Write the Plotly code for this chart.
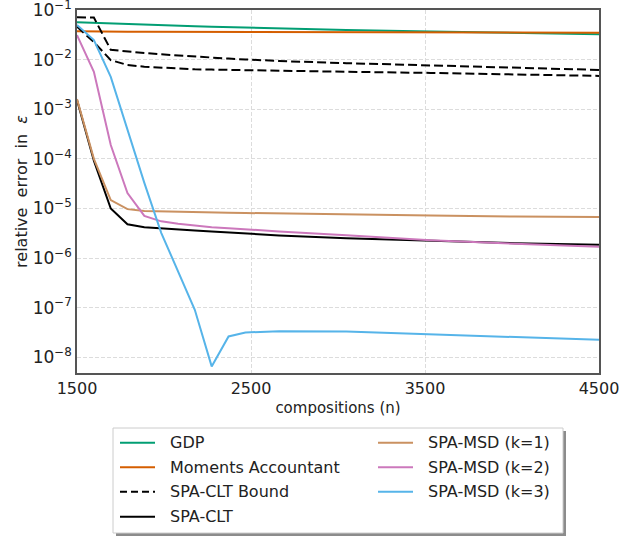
import plotly.graph_objects as go

# compositions (n) sample points
n = [1500, 1597, 1694, 1790, 1887, 1984, 2081, 2177, 2274, 2371, 2468,
     2661, 3048, 3532, 4016, 4500]

gdp = [0.0565, 0.0548, 0.0532, 0.0518, 0.0504, 0.0492, 0.0480, 0.0470,
       0.0460, 0.0450, 0.0441, 0.0425, 0.0397, 0.0368, 0.0346, 0.0326]
moments = [0.0375, 0.0368, 0.0366, 0.0365, 0.0364, 0.0363, 0.0362, 0.0361,
           0.0360, 0.0359, 0.0358, 0.0357, 0.0355, 0.0353, 0.0351, 0.0349]
bound_upper = [0.0713, 0.0705, 0.0158, 0.0145, 0.0136, 0.0128, 0.0121, 0.0115,
               0.0110, 0.0105, 0.0101, 0.0094, 0.0085, 0.0076, 0.0069, 0.0062]
bound_lower = [0.0461, 0.0226, 0.0098, 0.0078, 0.0072, 0.0069, 0.0066, 0.0064,
               0.0063, 0.0062, 0.0061, 0.0059, 0.0057, 0.0054, 0.0050, 0.0047]
spa_clt = [1.54e-3, 9.2e-5, 1.0e-5, 4.8e-6, 4.2e-6, 3.95e-6, 3.8e-6, 3.6e-6,
           3.45e-6, 3.3e-6, 3.1e-6, 2.85e-6, 2.5e-6, 2.2e-6, 2.0e-6, 1.85e-6]
msd_k1 = [1.6e-3, 1.0e-4, 1.48e-5, 9.7e-6, 8.9e-6, 8.7e-6, 8.5e-6, 8.4e-6,
          8.3e-6, 8.2e-6, 8.1e-6, 7.9e-6, 7.6e-6, 7.2e-6, 6.9e-6, 6.7e-6]
msd_k2 = [0.0313, 0.0057, 1.9e-4, 2.05e-5, 7.1e-6, 5.5e-6, 4.9e-6, 4.5e-6,
          4.2e-6, 4.0e-6, 3.8e-6, 3.45e-6, 2.9e-6, 2.3e-6, 1.95e-6, 1.7e-6]
msd_k3 = [0.0499, 0.0249, 4.48e-3, 3.83e-4, 3.28e-5, 3.23e-6, 5.29e-7, 9.08e-8,
          6.55e-9, 2.63e-8, 3.16e-8, 3.35e-8, 3.3e-8, 2.9e-8, 2.55e-8, 2.25e-8]

x_ticks = [1500, 2500, 3500, 4500]
y_ticks = [1e-8, 1e-7, 1e-6, 1e-5, 1e-4, 1e-3, 1e-2, 1e-1]
y_tick_labels = ["10<sup>−8</sup>", "10<sup>−7</sup>", "10<sup>−6</sup>", "10<sup>−5</sup>",
                 "10<sup>−4</sup>", "10<sup>−3</sup>", "10<sup>−2</sup>", "10<sup>−1</sup>"]

FONT = "DejaVu Sans"
W, H = 634, 536
L, R, T, B = 77, 599, 10, 373
DASH = "9px,4px"

series = [
    (gdp, "GDP", "#029E73", "solid"),
    (moments, "Moments Accountant", "#D55E00", "solid"),
    (bound_upper, "SPA-CLT Bound", "black", DASH),
    (bound_lower, None, "black", DASH),
    (spa_clt, "SPA-CLT", "black", "solid"),
    (msd_k1, "SPA-MSD (k=1)", "#CA9161", "solid"),
    (msd_k2, "SPA-MSD (k=2)", "#CC78BC", "solid"),
    (msd_k3, "SPA-MSD (k=3)", "#56B4E9", "solid"),
]

fig = go.Figure()
for y, name, color, dash in series:
    fig.add_trace(go.Scatter(
        x=n, y=y, mode="lines", name=name or "SPA-CLT Bound",
        line=dict(color=color, width=2, dash=dash), showlegend=False))

pw, ph = R - L, B - T
def px(x):
    return (x - L) / pw
def py(y):
    return (B - y) / ph

# manual legend (matplotlib style: 2 columns, framed with shadow)
box = (113, 428, 563, 533)
fig.add_shape(type="rect", xref="paper", yref="paper",
              x0=px(box[0] + 3), x1=px(box[2] + 3), y0=py(box[1] + 3), y1=py(box[3] + 3),
              fillcolor="#8c8c8c", line=dict(width=0), layer="above")
fig.add_shape(type="rect", xref="paper", yref="paper",
              x0=px(box[0]), x1=px(box[2]), y0=py(box[1]), y1=py(box[3]),
              fillcolor="white", line=dict(color="#cccccc", width=1), layer="above")

rows_y = [442.7, 467.3, 491.7, 516.7]
cols_x = [120, 378]
legend_entries = [s for s in series if s[1]]
for i, (y, name, color, dash) in enumerate(legend_entries):
    col = 0 if i < 4 else 1
    row = i if i < 4 else i - 4
    lx = cols_x[col]
    ly = rows_y[row]
    fig.add_shape(type="line", xref="paper", yref="paper",
                  x0=px(lx), x1=px(lx + 35), y0=py(ly), y1=py(ly),
                  line=dict(color=color, width=2, dash="7px,4px" if dash != "solid" else "solid"),
                  layer="above")
    fig.add_annotation(text=name, xref="paper", yref="paper",
                       x=px(lx + 48), y=py(ly), xanchor="left", yanchor="middle",
                       showarrow=False, font=dict(family=FONT, size=16, color="#222"))

fig.update_layout(
    width=W, height=H,
    margin=dict(l=L, r=W - R, t=T, b=H - B, autoexpand=False),
    paper_bgcolor="white", plot_bgcolor="white",
    font=dict(family=FONT, size=16, color="#222"),
    showlegend=False,
    xaxis=dict(
        range=[1500, 4500], tickvals=x_ticks, ticktext=[str(v) for v in x_ticks],
        showgrid=True, gridcolor="#dcdcdc", griddash="4px,2px", gridwidth=1,
        showline=True, linecolor="#555", linewidth=1.5, mirror=True,
        ticks="", tickfont=dict(size=16), ticklabeloverflow="allow",
        title=dict(text="compositions (n)", font=dict(size=15), standoff=6),
        zeroline=False,
    ),
    yaxis=dict(
        type="log", range=[-8.317, -0.999], tickvals=y_ticks, ticktext=y_tick_labels,
        showgrid=True, gridcolor="#dcdcdc", griddash="4px,2px", gridwidth=1,
        showline=True, linecolor="#555", linewidth=1.5, mirror=True,
        ticks="", tickfont=dict(size=17), ticklabeloverflow="allow",
        title=dict(text="relative\u00a0 error\u00a0 in\u00a0 <i>ε</i>", font=dict(size=16), standoff=1),
        zeroline=False,
    ),
)

fig.write_html("out.html")
